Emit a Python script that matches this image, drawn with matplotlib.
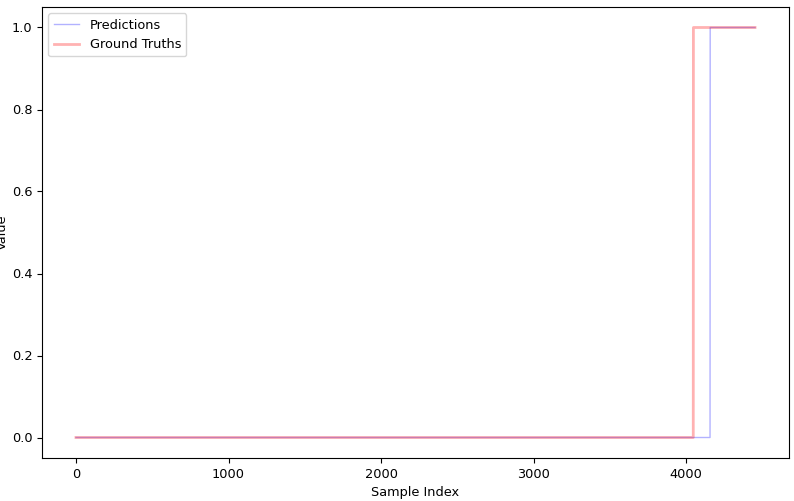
import matplotlib
matplotlib.use("Agg")
import matplotlib.pyplot as plt
import numpy as np

# run lengths of each label value (0 then 1)
pred_values = [0.0, 1.0]
pred_counts = [4157, 295]
truth_values = [0.0, 1.0]
truth_counts = [4047, 405]

predictions = np.repeat(pred_values, pred_counts)
ground_truths = np.repeat(truth_values, truth_counts)

plt.rcParams['font.size'] = 9.3

fig = plt.figure(figsize=(7.94, 5.01), dpi=100)
fig.subplots_adjust(left=42 / 794, right=789 / 794, top=1 - 7 / 501, bottom=1 - 458 / 501)
ax = fig.add_subplot(111)

ax.plot(predictions, label='Predictions', color='blue', alpha=0.3, linewidth=1)
ax.plot(ground_truths, label='Ground Truths', color='red', alpha=0.3, linewidth=2)

ax.set_xlabel('Sample Index')
ax.set_ylabel('Value')
# label is partly cut off at the left edge in the reference
ax.yaxis.set_label_coords(-0.0445, 0.5)
ax.legend(loc='upper left')

fig.savefig('out.png', dpi=100)
